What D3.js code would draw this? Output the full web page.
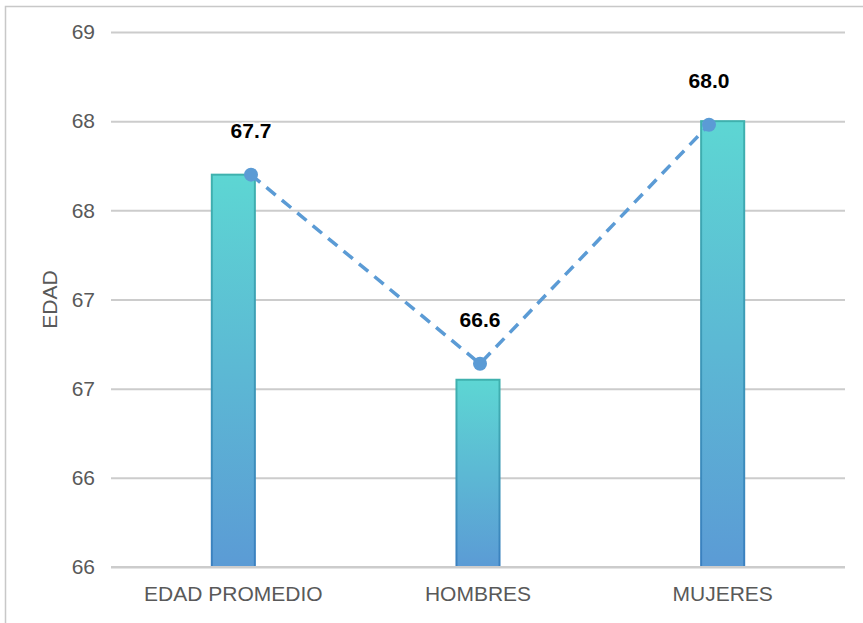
<!DOCTYPE html>
<html>
<head>
<meta charset="utf-8">
<script src="https://cdn.jsdelivr.net/npm/d3@7"></script>
<style>
  html, body { margin: 0; padding: 0; background: #ffffff; }
  svg { display: block; }
  text { font-family: "Liberation Sans", Arial, Helvetica, sans-serif; }
</style>
</head>
<body>
<svg id="chart" width="863" height="623"></svg>
<script>
// ---- data ----
const categories = ["EDAD PROMEDIO", "HOMBRES", "MUJERES"];
const barValues = [67.70, 66.55, 68.00];
const lineValues = [67.70, 66.64, 67.98];
const tickValues = [65.5, 66.0, 66.5, 67.0, 67.5, 68.0, 68.5];
const tickLabels = ["66", "66", "67", "67", "68", "68", "69"];
const yTitle = "EDAD";

// ---- layout ----
const W = 863, H = 623;
const plot = { left: 111, right: 845, top: 32, bottom: 567 };

const svg = d3.select("#chart");

// frame
svg.append("rect")
  .attr("x", 5.5).attr("y", 6.5)
  .attr("width", 900).attr("height", 700)
  .attr("fill", "none")
  .attr("stroke", "#c8c8c8")
  .attr("stroke-width", 1.5);

const y = d3.scaleLinear()
  .domain([tickValues[0], tickValues[tickValues.length - 1]])
  .range([plot.bottom, plot.top]);

const x = d3.scaleBand()
  .domain(categories)
  .range([plot.left, plot.right])
  .paddingInner(0.824)
  .paddingOuter(0.412);

const xLine = d3.scalePoint()
  .domain(categories)
  .range([plot.left + 2, plot.right + 2])
  .padding(0.6026);

// gradients
const defs = svg.append("defs");
const gFill = defs.append("linearGradient")
  .attr("id", "barFill").attr("x1", 0).attr("y1", 0).attr("x2", 0).attr("y2", 1);
gFill.append("stop").attr("offset", "0%").attr("stop-color", "#5dd6d3");
gFill.append("stop").attr("offset", "100%").attr("stop-color", "#5b9bd5");
const gStroke = defs.append("linearGradient")
  .attr("id", "barStroke").attr("x1", 0).attr("y1", 0).attr("x2", 0).attr("y2", 1);
gStroke.append("stop").attr("offset", "0%").attr("stop-color", "#3fb1ae");
gStroke.append("stop").attr("offset", "100%").attr("stop-color", "#3b80c0");

// y gridlines + labels via axis
const yAxis = d3.axisLeft(y)
  .tickValues(tickValues)
  .tickSize(-(plot.right - plot.left))
  .tickPadding(16)
  .tickFormat((d, i) => tickLabels[i]);

const gy = svg.append("g")
  .attr("transform", `translate(${plot.left},0)`)
  .call(yAxis);
gy.select(".domain").remove();
gy.selectAll(".tick line")
  .attr("stroke", "#cccccc")
  .attr("stroke-width", 2);
gy.selectAll(".tick text")
  .attr("fill", "#595959")
  .style("font-size", "21px");

// bars
svg.append("g").selectAll("rect")
  .data(categories)
  .join("rect")
  .attr("x", d => x(d))
  .attr("y", (d, i) => y(barValues[i]))
  .attr("width", x.bandwidth())
  .attr("height", (d, i) => y(tickValues[0]) - y(barValues[i]))
  .attr("fill", "url(#barFill)")
  .attr("stroke", "url(#barStroke)")
  .attr("stroke-width", 2);

// baseline (drawn over bars)
svg.append("line")
  .attr("x1", plot.left).attr("x2", plot.right)
  .attr("y1", y(tickValues[0])).attr("y2", y(tickValues[0]))
  .attr("stroke", "#cccccc").attr("stroke-width", 2);

// x axis labels
const xAxis = d3.axisBottom(x).tickSize(0).tickPadding(0);
const gx = svg.append("g")
  .attr("transform", `translate(0,${plot.bottom})`)
  .call(xAxis);
gx.select(".domain").remove();
gx.selectAll(".tick text")
  .attr("fill", "#595959")
  .attr("dy", null)
  .attr("y", 34)
  .style("font-size", "21px");

// dashed line
const line = d3.line()
  .x((d, i) => xLine(categories[i]))
  .y(d => y(d));
svg.append("path")
  .datum(lineValues)
  .attr("d", line)
  .attr("fill", "none")
  .attr("stroke", "#5b9bd5")
  .attr("stroke-width", 3.5)
  .attr("stroke-dasharray", "12,8");

svg.append("g").selectAll("circle")
  .data(lineValues)
  .join("circle")
  .attr("cx", (d, i) => xLine(categories[i]))
  .attr("cy", d => y(d))
  .attr("r", 7)
  .attr("fill", "#5b9bd5");

// data labels
svg.append("g").selectAll("text")
  .data(lineValues)
  .join("text")
  .attr("x", (d, i) => xLine(categories[i]))
  .attr("y", d => y(d) - 37)
  .attr("text-anchor", "middle")
  .attr("fill", "#000000")
  .style("font-size", "21px")
  .style("font-weight", "bold")
  .style("paint-order", "stroke")
  .attr("stroke", "rgba(255,255,255,0.9)")
  .attr("stroke-width", 3)
  .text(d => d3.format(".1f")(d));

// y title
svg.append("text")
  .attr("transform", `translate(57,${(plot.top + plot.bottom) / 2}) rotate(-90)`)
  .attr("text-anchor", "middle")
  .attr("fill", "#595959")
  .style("font-size", "21px")
  .text(yTitle);
</script>
</body>
</html>
